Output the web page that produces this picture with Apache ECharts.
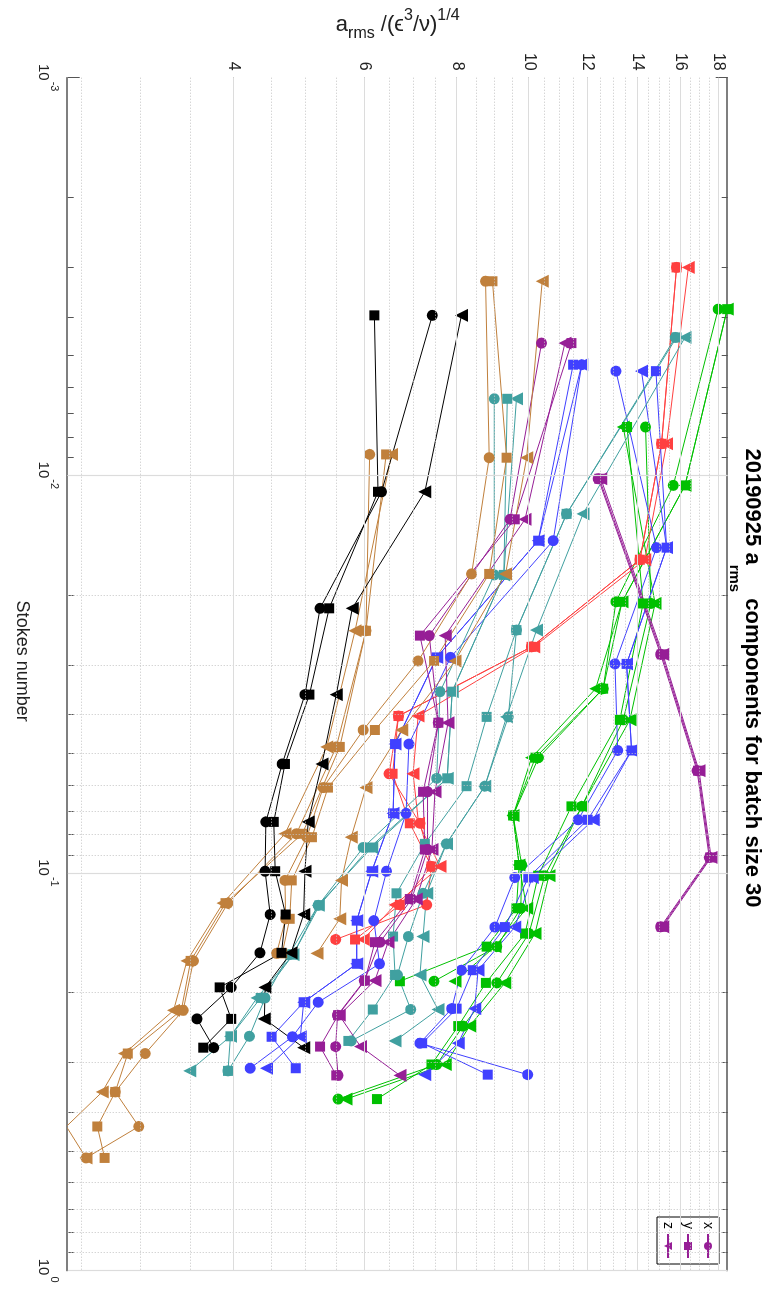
<!DOCTYPE html>
<html>
<head>
<meta charset="utf-8">
<title>20190925 a_rms components for batch size 30</title>
<script src="https://cdn.jsdelivr.net/npm/echarts@6.0.0/dist/echarts.min.js"></script>
<style>
  html, body { margin: 0; padding: 0; background: #ffffff; overflow: hidden; }
  #page { position: relative; width: 774px; height: 1290px; overflow: hidden; }
  /* the plot is laid out landscape and turned a quarter turn clockwise */
  #chart { position: absolute; left: 0; top: 0; width: 1290px; height: 774px;
           transform-origin: 0 0; transform: translate(774px, 0) rotate(90deg); }
</style>
</head>
<body>
<div id="page"><div id="chart"></div></div>
<script>
// Stokes numbers and rms acceleration components (x, y, z), one block per run
const stBlack = [0.00396, 0.0110, 0.0216, 0.0356, 0.0532, 0.0744, 0.0990, 0.1272, 0.1588, 0.1940, 0.2328, 0.2750];
const blackX  = [7.41, 6.33, 5.23, 4.99, 4.65, 4.42, 4.41, 4.48, 4.34, 3.97, 3.57, 3.76];
const blackY  = [6.19, 6.26, 5.38, 5.06, 4.69, 4.53, 4.55, 4.70, 4.64, 3.83, 3.97, 3.64];
const blackZ  = [8.11, 7.24, 5.78, 5.50, 5.26, 5.04, 4.99, 4.97, 4.78, 4.41, 4.40, 4.97];

const stPurpleA = [0.00465, 0.0129, 0.0253, 0.0419, 0.0625, 0.0873, 0.1163, 0.1493, 0.1865, 0.2279, 0.2733, 0.3229];
const purpleAX  = [10.40, 9.43, 7.34, 7.55, 7.30, 7.30, 6.95, 6.30, 6.00, 5.52, 5.49, 5.53];
const purpleAY  = [11.41, 9.57, 7.13, 7.55, 7.20, 7.24, 6.91, 6.20, 6.01, 5.53, 5.23, 5.50];
const purpleAZ  = [11.18, 9.88, 7.71, 7.78, 7.47, 7.40, 7.05, 6.46, 6.20, 5.55, 5.93, 6.70];

const stPurpleB = [0.0102, 0.0282, 0.0553, 0.0914, 0.1366];
const purpleBX  = [12.40, 15.05, 16.85, 17.50, 15.05];
const purpleBY  = [12.44, 15.10, 16.90, 17.55, 15.10];
const purpleBZ  = [12.50, 15.15, 16.95, 17.60, 15.15];

const stBrownA = [0.00325, 0.00903, 0.0177, 0.0293, 0.0437, 0.0610, 0.0813, 0.1044, 0.1304, 0.1593];
const brownAX  = [8.74, 8.84, 8.37, 7.09, 5.98, 5.28, 5.02, 4.69, 4.70, 4.57];
const brownAY  = [8.93, 9.33, 8.84, 7.45, 6.20, 5.36, 5.10, 4.79, 4.76, 4.65];
const brownAZ  = [10.42, 9.93, 9.30, 7.95, 6.74, 6.03, 5.76, 5.59, 5.56, 5.18];

const stBrownB = [0.00886, 0.0246, 0.0482, 0.0797, 0.1191, 0.1664, 0.2215, 0.2845, 0.3554, 0.4341, 0.5208];
const brownBX  = [6.10, 6.03, 5.50, 4.86, 3.93, 3.53, 3.42, 3.04, 2.77, 2.98, 2.53];
const brownBY  = [6.42, 6.03, 5.56, 4.95, 3.90, 3.50, 3.40, 2.88, 2.77, 2.62, 2.68];
const brownBZ  = [6.53, 5.83, 5.34, 4.69, 3.87, 3.46, 3.32, 2.85, 2.66, 2.38, 2.53];

const stTealA = [0.0045, 0.0125, 0.0245, 0.0405, 0.0605, 0.0845, 0.1125, 0.1445, 0.1805, 0.2205, 0.2645];
const tealAX  = [15.75, 11.24, 9.62, 9.38, 8.72, 7.74, 7.20, 6.88, 6.65, 6.93, 5.76];
const tealAY  = [15.81, 11.24, 9.62, 8.77, 8.24, 7.24, 6.63, 6.56, 6.60, 6.16, 5.71];
const tealAZ  = [16.23, 11.83, 10.24, 9.33, 8.72, 7.74, 7.28, 7.20, 7.13, 7.54, 6.60];

const stTealB = [0.00642, 0.0178, 0.0350, 0.0578, 0.0863, 0.1206, 0.1605, 0.2062, 0.2575, 0.3146];
const tealBX  = [8.98, 8.98, 7.59, 7.51, 5.98, 5.20, 4.75, 4.41, 4.20, 3.93];
const tealBY  = [9.35, 9.25, 7.88, 7.76, 6.10, 5.22, 4.81, 4.35, 3.96, 3.93];
const tealBZ  = [9.62, 9.25, 7.88, 7.76, 6.14, 5.20, 4.81, 4.30, 3.96, 3.49];

const stBlueA = [0.00527, 0.0146, 0.0287, 0.0474, 0.0708, 0.0990, 0.1318, 0.1692, 0.2114, 0.2582, 0.3098];
const blueAX  = [11.78, 10.78, 7.84, 6.89, 6.83, 6.43, 6.18, 6.29, 5.20, 4.80, 4.21];
const blueAY  = [11.47, 10.29, 7.51, 6.60, 6.56, 6.14, 5.86, 5.86, 4.97, 4.50, 4.85];
const blueAZ  = [11.78, 10.29, 7.51, 6.60, 6.56, 6.14, 5.86, 5.86, 4.97, 4.92, 4.43];

const stBlueB = [0.00547, 0.0152, 0.0298, 0.0492, 0.0735, 0.1027, 0.1368, 0.1756, 0.2194, 0.2680, 0.3215];
const blueBX  = [13.10, 14.86, 13.06, 13.17, 11.65, 9.57, 9.00, 8.11, 7.87, 7.13, 9.96];
const blueBY  = [14.83, 15.33, 13.54, 13.75, 12.00, 9.98, 9.28, 8.40, 7.99, 7.18, 8.80];
const blueBZ  = [14.18, 15.33, 13.54, 13.75, 12.21, 10.10, 9.57, 8.54, 8.45, 8.03, 7.24];

const stRed = [0.00300, 0.00833, 0.0163, 0.0270, 0.0403, 0.0563, 0.0750, 0.0963, 0.1203, 0.1470];
const redX  = [15.81, 15.09, 14.11, 10.08, 6.67, 6.48, 7.13, 7.39, 7.28, 5.49];
const redY  = [15.81, 15.09, 14.11, 10.08, 6.67, 6.55, 6.91, 7.39, 6.70, 5.83];
const redZ  = [16.40, 15.33, 14.33, 10.15, 7.09, 6.98, 7.10, 7.59, 6.60, 5.98];

const stGreenA = [0.00382, 0.0106, 0.0208, 0.0344, 0.0513, 0.0717, 0.0955, 0.1227, 0.1532, 0.1872];
const greenAX  = [17.99, 15.65, 13.10, 12.59, 10.30, 9.52, 9.78, 9.75, 9.05, 7.45];
const greenAY  = [18.50, 16.23, 13.35, 12.59, 10.20, 9.52, 9.70, 9.62, 8.77, 6.70];
const greenAZ  = [18.50, 16.23, 13.35, 12.30, 10.08, 9.52, 9.70, 9.93, 9.00, 7.95];

const stGreenB = [0.00756, 0.0210, 0.0412, 0.0680, 0.1016, 0.1420, 0.1890, 0.2427, 0.3032, 0.3704];
const greenBX  = [14.36, 14.60, 13.40, 11.78, 10.50, 10.00, 9.05, 8.15, 7.51, 5.53];
const greenBY  = [13.56, 14.25, 13.26, 11.41, 10.29, 9.88, 8.75, 8.03, 7.39, 6.24];
const greenBZ  = [13.40, 14.79, 13.68, 11.78, 10.64, 10.19, 9.28, 8.32, 7.71, 5.67];

// axis ranges and tick values
const stRange = [0.001, 1];
const aRange = [2.39, 18.53];
const stMajor = [0.001, 0.01, 0.1, 1];
const aMajor = [4, 6, 8, 10, 12, 14, 16, 18];

const stMinor = [];
[0.001, 0.01, 0.1].forEach(d => { for (let m = 2; m <= 9; m++) stMinor.push(+(m * d).toPrecision(3)); });
const aMinor = [];
for (let v = 2.5; v < 18.3; v += 0.5) { if (aMajor.indexOf(v) < 0) aMinor.push(v); }

const FONT = "'Liberation Sans', Arial, Helvetica, sans-serif";

const runs = [
  { key: 'green A',  color: '#00c000', st: stGreenA,  x: greenAX,  y: greenAY,  z: greenAZ },
  { key: 'green B',  color: '#00c000', st: stGreenB,  x: greenBX,  y: greenBY,  z: greenBZ },
  { key: 'red',      color: '#ff4040', st: stRed,     x: redX,     y: redY,     z: redZ },
  { key: 'blue A',   color: '#4040ff', st: stBlueA,   x: blueAX,   y: blueAY,   z: blueAZ },
  { key: 'blue B',   color: '#4040ff', st: stBlueB,   x: blueBX,   y: blueBY,   z: blueBZ },
  { key: 'teal A',   color: '#40a0a0', st: stTealA,   x: tealAX,   y: tealAY,   z: tealAZ },
  { key: 'teal B',   color: '#40a0a0', st: stTealB,   x: tealBX,   y: tealBY,   z: tealBZ },
  { key: 'purple A', color: '#961e96', st: stPurpleA, x: purpleAX, y: purpleAY, z: purpleAZ },
  { key: 'purple B', color: '#961e96', st: stPurpleB, x: purpleBX, y: purpleBY, z: purpleBZ, legend: true },
  { key: 'brown A',  color: '#c0803c', st: stBrownA,  x: brownAX,  y: brownAY,  z: brownAZ },
  { key: 'brown B',  color: '#c0803c', st: stBrownB,  x: brownBX,  y: brownBY,  z: brownBZ },
  { key: 'black',    color: '#000000', st: stBlack,   x: blackX,   y: blackY,   z: blackZ }
];

const SYMBOL = { x: 'circle', y: 'rect', z: 'triangle' };
const SYMSIZE = { x: 11, y: 10, z: 13 };

const series = [];
runs.forEach(r => {
  ['x', 'y', 'z'].forEach(c => {
    series.push({
      name: r.legend ? c : r.key + ' ' + c,
      type: 'line',
      xAxisIndex: 0, yAxisIndex: 0,
      data: r.st.map((s, i) => [s, r[c][i]]),
      symbol: SYMBOL[c],
      symbolSize: SYMSIZE[c],
      symbolRotate: c === 'z' ? 180 : 0,
      showAllSymbol: true,
      itemStyle: { color: r.color },
      lineStyle: { color: r.color, width: 1 },
      emphasis: { disabled: true },
      z: 3
    });
  });
});

// background grid drawn as mark lines on an empty carrier series
const gridLines = []
  .concat(stMinor.map(v => ({ xAxis: v, lineStyle: { color: '#c4c4c4', type: [1, 2], width: 1 } })))
  .concat(aMinor.map(v => ({ yAxis: v, lineStyle: { color: '#c4c4c4', type: [1, 2], width: 1 } })))
  .concat(stMajor.map(v => ({ xAxis: v, lineStyle: { color: '#dcdcdc', type: 'solid', width: 1.2 } })))
  .concat(aMajor.map(v => ({ yAxis: v, lineStyle: { color: '#dcdcdc', type: 'solid', width: 1.2 } })));

series.unshift({
  name: 'grid',
  type: 'line',
  data: [[stRange[0], aRange[0]]],
  symbol: 'none',
  lineStyle: { width: 0 },
  silent: true,
  z: 1,
  markLine: {
    silent: true,
    symbol: ['none', 'none'],
    label: { show: false },
    animation: false,
    data: gridLines
  }
});

function stLabel(v) {
  const e = Math.round(Math.log10(v));
  return '{b|10}{s|' + e + '}';
}

const stLabelRich = {
  b: { fontSize: 15, fontFamily: FONT, color: '#222', lineHeight: 24, verticalAlign: 'bottom' },
  s: { fontSize: 11, fontFamily: FONT, color: '#222', lineHeight: 24, verticalAlign: 'top', padding: [0, 0, 0, 1] }
};

function logAxis(range, pos, extra) {
  return Object.assign({
    type: 'log', logBase: 10, min: range[0], max: range[1], position: pos,
    splitLine: { show: false }, minorTick: { show: false }
  }, extra);
}

const axisDark = { show: true, lineStyle: { color: '#555555', width: 1.5 } };

const option = {
  animation: false,
  backgroundColor: '#ffffff',
  title: {
    text: '{t|20190925 a}{u|rms}{t| components for batch size 30}',
    left: 673, top: 6,
    textAlign: 'center',
    textStyle: {
      rich: {
        t: { fontSize: 22, fontWeight: 'bold', fontFamily: FONT, color: '#000', lineHeight: 36, verticalAlign: 'top' },
        u: { fontSize: 15, fontWeight: 'bold', fontFamily: FONT, color: '#000', lineHeight: 36, verticalAlign: 'bottom' }
      }
    }
  },
  legend: {
    data: ['x', 'y', 'z'],
    orient: 'vertical',
    right: 26, top: 55,
    align: 'right',
    itemWidth: 24, itemHeight: 10, itemGap: 6,
    padding: [4, 5, 4, 5],
    borderColor: '#000', borderWidth: 1,
    textStyle: { fontSize: 14, fontFamily: FONT, color: '#000' },
    selectedMode: false
  },
  grid: { left: 75.7, right: 19.4, top: 46.3, bottom: 67.7, containLabel: false },
  xAxis: [
    logAxis(stRange, 'bottom', {
      name: 'Stokes number', nameLocation: 'middle', nameGap: 36,
      nameTextStyle: { fontSize: 18, fontFamily: FONT, color: '#222', padding: [0, 26, 0, 0] },
      axisLine: axisDark,
      axisTick: { show: true, inside: true, length: 12, lineStyle: { color: '#555' } },
      axisLabel: { margin: 8, formatter: stLabel, rich: stLabelRich }
    }),
    logAxis(stRange, 'top', {
      axisLine: axisDark,
      axisTick: { show: true, inside: true, length: 12, lineStyle: { color: '#555' } },
      axisLabel: { show: false }
    }),
    logAxis(stRange, 'bottom', {
      axisLine: { show: false },
      axisTick: { show: true, inside: true, length: 6, customValues: stMinor, lineStyle: { color: '#555' } },
      axisLabel: { show: false }
    }),
    logAxis(stRange, 'top', {
      axisLine: { show: false },
      axisTick: { show: true, inside: true, length: 6, customValues: stMinor, lineStyle: { color: '#555' } },
      axisLabel: { show: false }
    })
  ],
  yAxis: [
    logAxis(aRange, 'left', {
      name: '{n|a}{d|rms}{n| /(ϵ}{p|3}{n|/ν)}{p|1/4}',
      nameLocation: 'middle', nameRotate: 90, nameGap: 30,
      nameTextStyle: {
        rich: {
          n: { fontSize: 22, fontFamily: FONT, color: '#222', lineHeight: 34, verticalAlign: 'middle' },
          d: { fontSize: 16, fontFamily: FONT, color: '#222', lineHeight: 34, verticalAlign: 'bottom' },
          p: { fontSize: 16, fontFamily: FONT, color: '#222', lineHeight: 34, verticalAlign: 'top' }
        }
      },
      axisLine: { show: false },
      axisTick: { show: true, inside: true, length: 10, customValues: aMajor, lineStyle: { color: '#555' } },
      axisLabel: { show: true, margin: 7, customValues: aMajor, fontSize: 16, fontFamily: FONT, color: '#222',
                   formatter: v => String(Math.round(v)) }
    }),
    logAxis(aRange, 'right', {
      axisLine: { show: false },
      axisTick: { show: true, inside: true, length: 10, customValues: aMajor, lineStyle: { color: '#555' } },
      axisLabel: { show: false }
    })
  ],
  series: series
};

const chart = echarts.init(document.getElementById('chart'), null, { renderer: 'canvas', width: 1290, height: 774 });
chart.setOption(option);
</script>
</body>
</html>
